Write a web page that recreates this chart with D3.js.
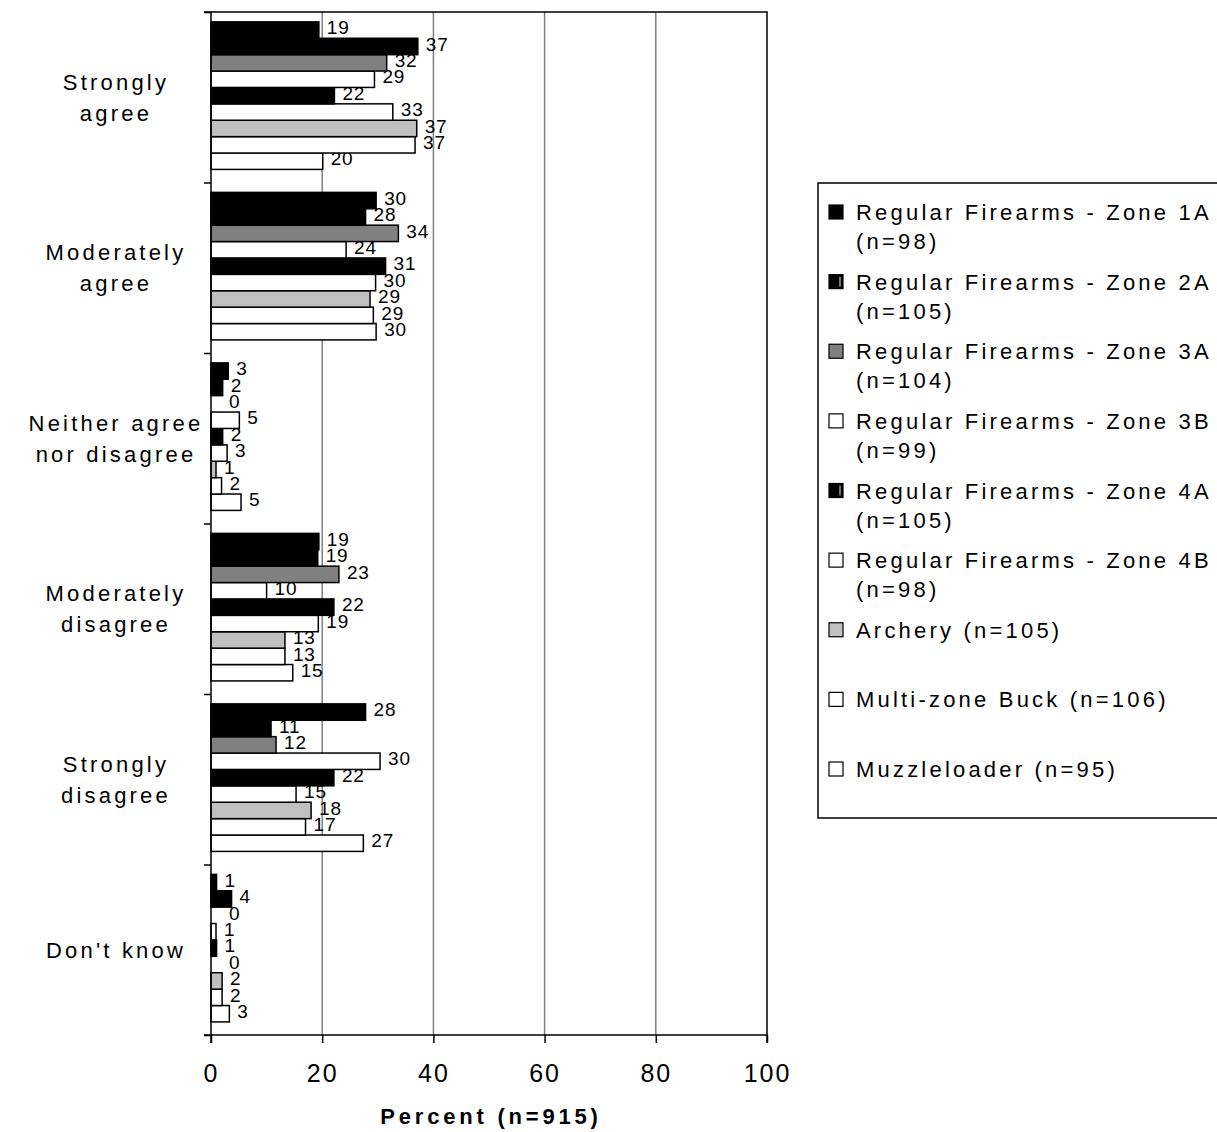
<!DOCTYPE html>
<html>
<head>
<meta charset="utf-8">
<script src="https://cdn.jsdelivr.net/npm/d3@7"></script>
<style>
  html, body { margin: 0; padding: 0; background: #fff; }
  svg { display: block; font-family: "Liberation Sans", Arial, sans-serif; }
</style>
</head>
<body>
<svg id="chart" width="1217" height="1132"></svg>
<script>
// ---------------- data ----------------
const categories = ["Strongly agree", "Moderately agree", "Neither agree nor disagree",
                    "Moderately disagree", "Strongly disagree", "Don't know"];
const categoryLines = [["Strongly", "agree"], ["Moderately", "agree"], ["Neither agree", "nor disagree"],
                       ["Moderately", "disagree"], ["Strongly", "disagree"], ["Don't know"]];

const seriesNames = ["Regular Firearms - Zone 1A (n=98)", "Regular Firearms - Zone 2A (n=105)",
                     "Regular Firearms - Zone 3A (n=104)", "Regular Firearms - Zone 3B (n=99)",
                     "Regular Firearms - Zone 4A (n=105)", "Regular Firearms - Zone 4B (n=98)",
                     "Archery (n=105)", "Multi-zone Buck (n=106)", "Muzzleloader (n=95)"];
const legendLines = [["Regular Firearms - Zone 1A", "(n=98)"], ["Regular Firearms - Zone 2A", "(n=105)"],
                     ["Regular Firearms - Zone 3A", "(n=104)"], ["Regular Firearms - Zone 3B", "(n=99)"],
                     ["Regular Firearms - Zone 4A", "(n=105)"], ["Regular Firearms - Zone 4B", "(n=98)"],
                     ["Archery (n=105)"], ["Multi-zone Buck (n=106)"], ["Muzzleloader (n=95)"]];

const zone1A    = [19.4, 29.7, 3.1, 19.4, 27.8, 1.0];
const zone2A    = [37.2, 27.8, 2.1, 19.2, 10.8, 3.7];
const zone3A    = [31.6, 33.7, 0.0, 23.0, 11.7, 0.0];
const zone3B    = [29.4, 24.3, 5.1, 10.0, 30.4, 0.9];
const zone4A    = [22.2, 31.4, 2.1, 22.1, 22.1, 1.0];
const zone4B    = [32.7, 29.6, 2.9, 19.3, 15.3, 0.0];
const archery   = [37.0, 28.6, 0.9, 13.3, 18.0, 2.0];
const multiZone = [36.7, 29.2, 1.9, 13.3, 17.0, 2.0];
const muzzle    = [20.1, 29.7, 5.4, 14.7, 27.4, 3.3];
const seriesValues = [zone1A, zone2A, zone3A, zone3B, zone4A, zone4B, archery, multiZone, muzzle];

const xTicks = [0, 20, 40, 60, 80, 100];
const axisTitle = "Percent (n=915)";

// ---------------- styles ----------------
const fills = ["#000000", "#000000", "#808080", "#ffffff", "#000000", "#ffffff", "#c0c0c0", "#ffffff", "#ffffff"];
const striped = [false, true, false, false, true, false, false, false, false];

(function draw() {
  const svg = d3.select("#chart");
  const pLeft = 211, pRight = 767, pTop = 12, pBottom = 1035;

  const x = d3.scaleLinear().domain([0, 100]).range([pLeft, pRight]);
  const y = d3.scaleBand().domain(categories).range([pTop, pBottom]).padding(0);
  const ySub = d3.scaleBand().domain(seriesNames).range([0, y.bandwidth()])
    .paddingInner(0).paddingOuter(0.7).align(0.43);
  const yEdge = d3.scaleLinear().domain([0, categories.length]).range([pTop, pBottom]);

  // gridlines
  svg.append("g").selectAll("line").data(xTicks.filter(t => t > 0 && t < 100)).join("line")
    .attr("x1", d => x(d)).attr("x2", d => x(d))
    .attr("y1", pTop).attr("y2", pBottom)
    .attr("stroke", "#808080").attr("stroke-width", 1.5);

  // plot border (top / right)
  svg.append("path")
    .attr("d", `M${x(0)},${pTop}H${x(100)}V${pBottom}`)
    .attr("fill", "none").attr("stroke", "#000").attr("stroke-width", 1.5);

  // bars and labels, drawn from the last series to the first
  const barsG = svg.append("g");
  for (let s = seriesNames.length - 1; s >= 0; s--) {
    const g = barsG.append("g");
    const rows = categories.map((c, i) => ({ c, v: seriesValues[s][i] }));
    g.selectAll("rect").data(rows.filter(d => d.v > 0)).join("rect")
      .attr("x", x(0))
      .attr("y", d => y(d.c) + ySub(seriesNames[s]))
      .attr("width", d => x(d.v) - x(0))
      .attr("height", ySub.bandwidth())
      .attr("fill", fills[s])
      .attr("stroke", "#000").attr("stroke-width", 1.5);
    g.selectAll("text").data(rows).join("text")
      .attr("x", d => x(d.v) + (d.v > 0 ? 8 : 18))
      .attr("y", d => y(d.c) + ySub(seriesNames[s]) + ySub.bandwidth() / 2 + 4.2)
      .attr("font-size", 19).attr("letter-spacing", 0.8).attr("fill", "#000")
      .text(d => d3.format(".0f")(d.v));
  }

  // left axis (ticks at category boundaries)
  const yAxis = d3.axisLeft(yEdge).ticks(categories.length).tickSize(7).tickFormat("");
  const yAxisG = svg.append("g").attr("transform", `translate(${x(0)},0)`).call(yAxis);
  yAxisG.select(".domain").attr("stroke", "#000").attr("stroke-width", 1.5).attr("d", `M-7,${pTop}H0V${pBottom}H-7`);
  yAxisG.selectAll(".tick line").attr("stroke", "#000").attr("stroke-width", 1.5);

  // bottom axis
  const xAxis = d3.axisBottom(x).tickValues(xTicks).tickSize(8).tickPadding(21).tickFormat(d3.format("d"));
  const xAxisG = svg.append("g").attr("transform", `translate(0,${pBottom})`).call(xAxis);
  xAxisG.select(".domain").attr("stroke", "#000").attr("stroke-width", 1.5).attr("d", `M${pLeft},8V0H${pRight}V8`);
  xAxisG.selectAll(".tick line").attr("stroke", "#000").attr("stroke-width", 1.5);
  xAxisG.selectAll(".tick text").attr("font-size", 25).attr("letter-spacing", 2)
    .attr("font-family", "Liberation Sans, Arial, sans-serif").attr("fill", "#000");

  // axis title
  svg.append("text")
    .attr("x", (pLeft + pRight) / 2 + 2).attr("y", 1124)
    .attr("text-anchor", "middle").attr("font-size", 22).attr("font-weight", "bold")
    .attr("letter-spacing", 3.8).attr("fill", "#000")
    .text(axisTitle);

  // category labels
  const catG = svg.append("g");
  categories.forEach((c, i) => {
    const lines = categoryLines[i];
    const cy = y(c) + y.bandwidth() / 2;
    const lh = 31;
    const t = catG.append("text").attr("font-size", 22).attr("letter-spacing", 3.2)
      .attr("text-anchor", "middle").attr("fill", "#000");
    const spans = lines.map((ln, k) => t.append("tspan")
      .attr("y", cy + (k - (lines.length - 1) / 2) * lh + 8).text(ln));
    let maxW = 0;
    spans.forEach(sp => { maxW = Math.max(maxW, sp.node().getComputedTextLength()); });
    const cx = Math.max(116, 12 + maxW / 2);
    spans.forEach(sp => sp.attr("x", cx));
  });

  // legend
  const lg = svg.append("g");
  lg.append("rect").attr("x", 818).attr("y", 183).attr("width", 420).attr("height", 635)
    .attr("fill", "#fff").attr("stroke", "#000").attr("stroke-width", 1.5);
  const legendY = d3.scaleLinear().domain([0, seriesNames.length - 1]).range([212, 769]);
  seriesNames.forEach((nm, i) => {
    const ly = legendY(i);
    lg.append("rect").attr("x", 829).attr("y", ly - 7).attr("width", 14).attr("height", 14)
      .attr("fill", fills[i]).attr("stroke", "#000").attr("stroke-width", 1.2);
    if (striped[i]) {
      lg.append("line").attr("x1", 840).attr("x2", 840).attr("y1", ly - 5).attr("y2", ly + 5)
        .attr("stroke", "#c0c0c0").attr("stroke-width", 1.2);
    }
    const t = lg.append("text").attr("font-size", 22).attr("letter-spacing", 3.2).attr("fill", "#000");
    legendLines[i].forEach((ln, k) => {
      t.append("tspan").attr("x", 856).attr("y", ly + 8 + k * 29).text(ln);
    });
  });
})();
</script>
</body>
</html>
